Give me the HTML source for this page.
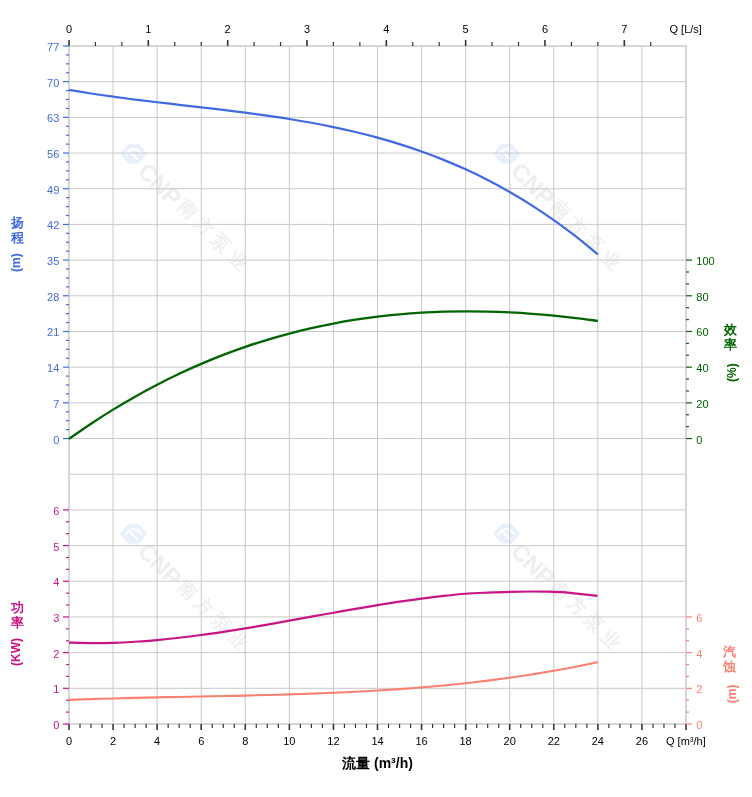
<!DOCTYPE html>
<html><head><meta charset="utf-8"><title>Pump curve</title>
<style>
html,body{margin:0;padding:0;background:#fff;}
body{width:752px;height:797px;overflow:hidden;}
svg{display:block;}
text{font-family:"Liberation Sans", Arial, sans-serif;}
</style></head>
<body>
<svg width="752" height="797" viewBox="0 0 752 797">
<rect width="752" height="797" fill="#fff"/>
<g id="wm">
<path transform="translate(133.6,153.6)" d="M-12,0 L-4.5,-8.6 L4.5,-8.6 L12,0 L4.5,8.6 L-4.5,8.6 Z" fill="#e8f0f9" stroke="#e8f0f9" stroke-width="2.6" stroke-linejoin="round"/>
<path transform="translate(133.6,153.6)" d="M-8,0.5 Q0,-9.5 8,0.5 M-3.2,-1.2 L3.5,5.5" fill="none" stroke="#ffffff" stroke-width="2.2" stroke-linecap="round"/>
<g transform="translate(133.6,153.6) rotate(45)">
<text x="15.5" y="11.5" font-family="Liberation Sans, sans-serif" font-weight="bold" font-size="23.5" fill="#eeeeee">CNP</text>
<text x="68.5" y="7.6" font-family="'Noto Sans CJK SC', sans-serif" font-weight="700" font-size="18.5" fill="#f0f0f0" letter-spacing="4.7">南方泵业</text>
</g>
<path transform="translate(506.6,153.6)" d="M-12,0 L-4.5,-8.6 L4.5,-8.6 L12,0 L4.5,8.6 L-4.5,8.6 Z" fill="#e8f0f9" stroke="#e8f0f9" stroke-width="2.6" stroke-linejoin="round"/>
<path transform="translate(506.6,153.6)" d="M-8,0.5 Q0,-9.5 8,0.5 M-3.2,-1.2 L3.5,5.5" fill="none" stroke="#ffffff" stroke-width="2.2" stroke-linecap="round"/>
<g transform="translate(506.6,153.6) rotate(45)">
<text x="15.5" y="11.5" font-family="Liberation Sans, sans-serif" font-weight="bold" font-size="23.5" fill="#eeeeee">CNP</text>
<text x="68.5" y="7.6" font-family="'Noto Sans CJK SC', sans-serif" font-weight="700" font-size="18.5" fill="#f0f0f0" letter-spacing="4.7">南方泵业</text>
</g>
<path transform="translate(133.6,533.7)" d="M-12,0 L-4.5,-8.6 L4.5,-8.6 L12,0 L4.5,8.6 L-4.5,8.6 Z" fill="#e8f0f9" stroke="#e8f0f9" stroke-width="2.6" stroke-linejoin="round"/>
<path transform="translate(133.6,533.7)" d="M-8,0.5 Q0,-9.5 8,0.5 M-3.2,-1.2 L3.5,5.5" fill="none" stroke="#ffffff" stroke-width="2.2" stroke-linecap="round"/>
<g transform="translate(133.6,533.7) rotate(45)">
<text x="15.5" y="11.5" font-family="Liberation Sans, sans-serif" font-weight="bold" font-size="23.5" fill="#eeeeee">CNP</text>
<text x="68.5" y="7.6" font-family="'Noto Sans CJK SC', sans-serif" font-weight="700" font-size="18.5" fill="#f0f0f0" letter-spacing="4.7">南方泵业</text>
</g>
<path transform="translate(506.6,533.7)" d="M-12,0 L-4.5,-8.6 L4.5,-8.6 L12,0 L4.5,8.6 L-4.5,8.6 Z" fill="#e8f0f9" stroke="#e8f0f9" stroke-width="2.6" stroke-linejoin="round"/>
<path transform="translate(506.6,533.7)" d="M-8,0.5 Q0,-9.5 8,0.5 M-3.2,-1.2 L3.5,5.5" fill="none" stroke="#ffffff" stroke-width="2.2" stroke-linecap="round"/>
<g transform="translate(506.6,533.7) rotate(45)">
<text x="15.5" y="11.5" font-family="Liberation Sans, sans-serif" font-weight="bold" font-size="23.5" fill="#eeeeee">CNP</text>
<text x="68.5" y="7.6" font-family="'Noto Sans CJK SC', sans-serif" font-weight="700" font-size="18.5" fill="#f0f0f0" letter-spacing="4.7">南方泵业</text>
</g>
</g>
<g id="grid" shape-rendering="auto">
<line x1="113.07" y1="46" x2="113.07" y2="724" stroke="#c8c8c8" stroke-width="1"/>
<line x1="157.14" y1="46" x2="157.14" y2="724" stroke="#c8c8c8" stroke-width="1"/>
<line x1="201.21" y1="46" x2="201.21" y2="724" stroke="#c8c8c8" stroke-width="1"/>
<line x1="245.29" y1="46" x2="245.29" y2="724" stroke="#c8c8c8" stroke-width="1"/>
<line x1="289.36" y1="46" x2="289.36" y2="724" stroke="#c8c8c8" stroke-width="1"/>
<line x1="333.43" y1="46" x2="333.43" y2="724" stroke="#c8c8c8" stroke-width="1"/>
<line x1="377.5" y1="46" x2="377.5" y2="724" stroke="#c8c8c8" stroke-width="1"/>
<line x1="421.57" y1="46" x2="421.57" y2="724" stroke="#c8c8c8" stroke-width="1"/>
<line x1="465.64" y1="46" x2="465.64" y2="724" stroke="#c8c8c8" stroke-width="1"/>
<line x1="509.71" y1="46" x2="509.71" y2="724" stroke="#c8c8c8" stroke-width="1"/>
<line x1="553.79" y1="46" x2="553.79" y2="724" stroke="#c8c8c8" stroke-width="1"/>
<line x1="597.86" y1="46" x2="597.86" y2="724" stroke="#c8c8c8" stroke-width="1"/>
<line x1="641.93" y1="46" x2="641.93" y2="724" stroke="#c8c8c8" stroke-width="1"/>
<line x1="69" y1="81.68" x2="686" y2="81.68" stroke="#c8c8c8" stroke-width="1"/>
<line x1="69" y1="117.37" x2="686" y2="117.37" stroke="#c8c8c8" stroke-width="1"/>
<line x1="69" y1="153.05" x2="686" y2="153.05" stroke="#c8c8c8" stroke-width="1"/>
<line x1="69" y1="188.74" x2="686" y2="188.74" stroke="#c8c8c8" stroke-width="1"/>
<line x1="69" y1="224.42" x2="686" y2="224.42" stroke="#c8c8c8" stroke-width="1"/>
<line x1="69" y1="260.11" x2="686" y2="260.11" stroke="#c8c8c8" stroke-width="1"/>
<line x1="69" y1="295.79" x2="686" y2="295.79" stroke="#c8c8c8" stroke-width="1"/>
<line x1="69" y1="331.47" x2="686" y2="331.47" stroke="#c8c8c8" stroke-width="1"/>
<line x1="69" y1="367.16" x2="686" y2="367.16" stroke="#c8c8c8" stroke-width="1"/>
<line x1="69" y1="402.84" x2="686" y2="402.84" stroke="#c8c8c8" stroke-width="1"/>
<line x1="69" y1="438.53" x2="686" y2="438.53" stroke="#c8c8c8" stroke-width="1"/>
<line x1="69" y1="474.21" x2="686" y2="474.21" stroke="#c8c8c8" stroke-width="1"/>
<line x1="69" y1="509.89" x2="686" y2="509.89" stroke="#c8c8c8" stroke-width="1"/>
<line x1="69" y1="545.58" x2="686" y2="545.58" stroke="#c8c8c8" stroke-width="1"/>
<line x1="69" y1="581.26" x2="686" y2="581.26" stroke="#c8c8c8" stroke-width="1"/>
<line x1="69" y1="616.95" x2="686" y2="616.95" stroke="#c8c8c8" stroke-width="1"/>
<line x1="69" y1="652.63" x2="686" y2="652.63" stroke="#c8c8c8" stroke-width="1"/>
<line x1="69" y1="688.32" x2="686" y2="688.32" stroke="#c8c8c8" stroke-width="1"/>
<rect x="69" y="46" width="617" height="678" fill="none" stroke="#d6d6d6" stroke-width="2"/>
<line x1="69" y1="724" x2="69" y2="730" stroke="#333333" stroke-width="1.6"/>
<line x1="80.02" y1="724" x2="80.02" y2="728" stroke="#333333" stroke-width="1.2"/>
<line x1="91.04" y1="724" x2="91.04" y2="728" stroke="#333333" stroke-width="1.2"/>
<line x1="102.05" y1="724" x2="102.05" y2="728" stroke="#333333" stroke-width="1.2"/>
<line x1="113.07" y1="724" x2="113.07" y2="730" stroke="#333333" stroke-width="1.6"/>
<line x1="124.09" y1="724" x2="124.09" y2="728" stroke="#333333" stroke-width="1.2"/>
<line x1="135.11" y1="724" x2="135.11" y2="728" stroke="#333333" stroke-width="1.2"/>
<line x1="146.12" y1="724" x2="146.12" y2="728" stroke="#333333" stroke-width="1.2"/>
<line x1="157.14" y1="724" x2="157.14" y2="730" stroke="#333333" stroke-width="1.6"/>
<line x1="168.16" y1="724" x2="168.16" y2="728" stroke="#333333" stroke-width="1.2"/>
<line x1="179.18" y1="724" x2="179.18" y2="728" stroke="#333333" stroke-width="1.2"/>
<line x1="190.2" y1="724" x2="190.2" y2="728" stroke="#333333" stroke-width="1.2"/>
<line x1="201.21" y1="724" x2="201.21" y2="730" stroke="#333333" stroke-width="1.6"/>
<line x1="212.23" y1="724" x2="212.23" y2="728" stroke="#333333" stroke-width="1.2"/>
<line x1="223.25" y1="724" x2="223.25" y2="728" stroke="#333333" stroke-width="1.2"/>
<line x1="234.27" y1="724" x2="234.27" y2="728" stroke="#333333" stroke-width="1.2"/>
<line x1="245.29" y1="724" x2="245.29" y2="730" stroke="#333333" stroke-width="1.6"/>
<line x1="256.3" y1="724" x2="256.3" y2="728" stroke="#333333" stroke-width="1.2"/>
<line x1="267.32" y1="724" x2="267.32" y2="728" stroke="#333333" stroke-width="1.2"/>
<line x1="278.34" y1="724" x2="278.34" y2="728" stroke="#333333" stroke-width="1.2"/>
<line x1="289.36" y1="724" x2="289.36" y2="730" stroke="#333333" stroke-width="1.6"/>
<line x1="300.38" y1="724" x2="300.38" y2="728" stroke="#333333" stroke-width="1.2"/>
<line x1="311.39" y1="724" x2="311.39" y2="728" stroke="#333333" stroke-width="1.2"/>
<line x1="322.41" y1="724" x2="322.41" y2="728" stroke="#333333" stroke-width="1.2"/>
<line x1="333.43" y1="724" x2="333.43" y2="730" stroke="#333333" stroke-width="1.6"/>
<line x1="344.45" y1="724" x2="344.45" y2="728" stroke="#333333" stroke-width="1.2"/>
<line x1="355.46" y1="724" x2="355.46" y2="728" stroke="#333333" stroke-width="1.2"/>
<line x1="366.48" y1="724" x2="366.48" y2="728" stroke="#333333" stroke-width="1.2"/>
<line x1="377.5" y1="724" x2="377.5" y2="730" stroke="#333333" stroke-width="1.6"/>
<line x1="388.52" y1="724" x2="388.52" y2="728" stroke="#333333" stroke-width="1.2"/>
<line x1="399.54" y1="724" x2="399.54" y2="728" stroke="#333333" stroke-width="1.2"/>
<line x1="410.55" y1="724" x2="410.55" y2="728" stroke="#333333" stroke-width="1.2"/>
<line x1="421.57" y1="724" x2="421.57" y2="730" stroke="#333333" stroke-width="1.6"/>
<line x1="432.59" y1="724" x2="432.59" y2="728" stroke="#333333" stroke-width="1.2"/>
<line x1="443.61" y1="724" x2="443.61" y2="728" stroke="#333333" stroke-width="1.2"/>
<line x1="454.62" y1="724" x2="454.62" y2="728" stroke="#333333" stroke-width="1.2"/>
<line x1="465.64" y1="724" x2="465.64" y2="730" stroke="#333333" stroke-width="1.6"/>
<line x1="476.66" y1="724" x2="476.66" y2="728" stroke="#333333" stroke-width="1.2"/>
<line x1="487.68" y1="724" x2="487.68" y2="728" stroke="#333333" stroke-width="1.2"/>
<line x1="498.7" y1="724" x2="498.7" y2="728" stroke="#333333" stroke-width="1.2"/>
<line x1="509.71" y1="724" x2="509.71" y2="730" stroke="#333333" stroke-width="1.6"/>
<line x1="520.73" y1="724" x2="520.73" y2="728" stroke="#333333" stroke-width="1.2"/>
<line x1="531.75" y1="724" x2="531.75" y2="728" stroke="#333333" stroke-width="1.2"/>
<line x1="542.77" y1="724" x2="542.77" y2="728" stroke="#333333" stroke-width="1.2"/>
<line x1="553.79" y1="724" x2="553.79" y2="730" stroke="#333333" stroke-width="1.6"/>
<line x1="564.8" y1="724" x2="564.8" y2="728" stroke="#333333" stroke-width="1.2"/>
<line x1="575.82" y1="724" x2="575.82" y2="728" stroke="#333333" stroke-width="1.2"/>
<line x1="586.84" y1="724" x2="586.84" y2="728" stroke="#333333" stroke-width="1.2"/>
<line x1="597.86" y1="724" x2="597.86" y2="730" stroke="#333333" stroke-width="1.6"/>
<line x1="608.88" y1="724" x2="608.88" y2="728" stroke="#333333" stroke-width="1.2"/>
<line x1="619.89" y1="724" x2="619.89" y2="728" stroke="#333333" stroke-width="1.2"/>
<line x1="630.91" y1="724" x2="630.91" y2="728" stroke="#333333" stroke-width="1.2"/>
<line x1="641.93" y1="724" x2="641.93" y2="730" stroke="#333333" stroke-width="1.6"/>
<line x1="652.95" y1="724" x2="652.95" y2="728" stroke="#333333" stroke-width="1.2"/>
<line x1="663.96" y1="724" x2="663.96" y2="728" stroke="#333333" stroke-width="1.2"/>
<line x1="674.98" y1="724" x2="674.98" y2="728" stroke="#333333" stroke-width="1.2"/>
<line x1="686" y1="724" x2="686" y2="730" stroke="#333333" stroke-width="1.6"/>
<line x1="69" y1="40" x2="69" y2="46" stroke="#333333" stroke-width="1.6"/>
<line x1="95.44" y1="42" x2="95.44" y2="46" stroke="#333333" stroke-width="1.2"/>
<line x1="121.89" y1="42" x2="121.89" y2="46" stroke="#333333" stroke-width="1.2"/>
<line x1="148.33" y1="40" x2="148.33" y2="46" stroke="#333333" stroke-width="1.6"/>
<line x1="174.77" y1="42" x2="174.77" y2="46" stroke="#333333" stroke-width="1.2"/>
<line x1="201.21" y1="42" x2="201.21" y2="46" stroke="#333333" stroke-width="1.2"/>
<line x1="227.66" y1="40" x2="227.66" y2="46" stroke="#333333" stroke-width="1.6"/>
<line x1="254.1" y1="42" x2="254.1" y2="46" stroke="#333333" stroke-width="1.2"/>
<line x1="280.54" y1="42" x2="280.54" y2="46" stroke="#333333" stroke-width="1.2"/>
<line x1="306.99" y1="40" x2="306.99" y2="46" stroke="#333333" stroke-width="1.6"/>
<line x1="333.43" y1="42" x2="333.43" y2="46" stroke="#333333" stroke-width="1.2"/>
<line x1="359.87" y1="42" x2="359.87" y2="46" stroke="#333333" stroke-width="1.2"/>
<line x1="386.31" y1="40" x2="386.31" y2="46" stroke="#333333" stroke-width="1.6"/>
<line x1="412.76" y1="42" x2="412.76" y2="46" stroke="#333333" stroke-width="1.2"/>
<line x1="439.2" y1="42" x2="439.2" y2="46" stroke="#333333" stroke-width="1.2"/>
<line x1="465.64" y1="40" x2="465.64" y2="46" stroke="#333333" stroke-width="1.6"/>
<line x1="492.09" y1="42" x2="492.09" y2="46" stroke="#333333" stroke-width="1.2"/>
<line x1="518.53" y1="42" x2="518.53" y2="46" stroke="#333333" stroke-width="1.2"/>
<line x1="544.97" y1="40" x2="544.97" y2="46" stroke="#333333" stroke-width="1.6"/>
<line x1="571.41" y1="42" x2="571.41" y2="46" stroke="#333333" stroke-width="1.2"/>
<line x1="597.86" y1="42" x2="597.86" y2="46" stroke="#333333" stroke-width="1.2"/>
<line x1="624.3" y1="40" x2="624.3" y2="46" stroke="#333333" stroke-width="1.6"/>
<line x1="650.74" y1="42" x2="650.74" y2="46" stroke="#333333" stroke-width="1.2"/>
<line x1="63" y1="46" x2="69" y2="46" stroke="#4169e1" stroke-width="1.2"/>
<line x1="66" y1="54.92" x2="69" y2="54.92" stroke="#4169e1" stroke-width="1.2"/>
<line x1="66" y1="63.84" x2="69" y2="63.84" stroke="#4169e1" stroke-width="1.2"/>
<line x1="66" y1="72.76" x2="69" y2="72.76" stroke="#4169e1" stroke-width="1.2"/>
<line x1="63" y1="81.68" x2="69" y2="81.68" stroke="#4169e1" stroke-width="1.2"/>
<line x1="66" y1="90.61" x2="69" y2="90.61" stroke="#4169e1" stroke-width="1.2"/>
<line x1="66" y1="99.53" x2="69" y2="99.53" stroke="#4169e1" stroke-width="1.2"/>
<line x1="66" y1="108.45" x2="69" y2="108.45" stroke="#4169e1" stroke-width="1.2"/>
<line x1="63" y1="117.37" x2="69" y2="117.37" stroke="#4169e1" stroke-width="1.2"/>
<line x1="66" y1="126.29" x2="69" y2="126.29" stroke="#4169e1" stroke-width="1.2"/>
<line x1="66" y1="135.21" x2="69" y2="135.21" stroke="#4169e1" stroke-width="1.2"/>
<line x1="66" y1="144.13" x2="69" y2="144.13" stroke="#4169e1" stroke-width="1.2"/>
<line x1="63" y1="153.05" x2="69" y2="153.05" stroke="#4169e1" stroke-width="1.2"/>
<line x1="66" y1="161.97" x2="69" y2="161.97" stroke="#4169e1" stroke-width="1.2"/>
<line x1="66" y1="170.89" x2="69" y2="170.89" stroke="#4169e1" stroke-width="1.2"/>
<line x1="66" y1="179.82" x2="69" y2="179.82" stroke="#4169e1" stroke-width="1.2"/>
<line x1="63" y1="188.74" x2="69" y2="188.74" stroke="#4169e1" stroke-width="1.2"/>
<line x1="66" y1="197.66" x2="69" y2="197.66" stroke="#4169e1" stroke-width="1.2"/>
<line x1="66" y1="206.58" x2="69" y2="206.58" stroke="#4169e1" stroke-width="1.2"/>
<line x1="66" y1="215.5" x2="69" y2="215.5" stroke="#4169e1" stroke-width="1.2"/>
<line x1="63" y1="224.42" x2="69" y2="224.42" stroke="#4169e1" stroke-width="1.2"/>
<line x1="66" y1="233.34" x2="69" y2="233.34" stroke="#4169e1" stroke-width="1.2"/>
<line x1="66" y1="242.26" x2="69" y2="242.26" stroke="#4169e1" stroke-width="1.2"/>
<line x1="66" y1="251.18" x2="69" y2="251.18" stroke="#4169e1" stroke-width="1.2"/>
<line x1="63" y1="260.11" x2="69" y2="260.11" stroke="#4169e1" stroke-width="1.2"/>
<line x1="66" y1="269.03" x2="69" y2="269.03" stroke="#4169e1" stroke-width="1.2"/>
<line x1="66" y1="277.95" x2="69" y2="277.95" stroke="#4169e1" stroke-width="1.2"/>
<line x1="66" y1="286.87" x2="69" y2="286.87" stroke="#4169e1" stroke-width="1.2"/>
<line x1="63" y1="295.79" x2="69" y2="295.79" stroke="#4169e1" stroke-width="1.2"/>
<line x1="66" y1="304.71" x2="69" y2="304.71" stroke="#4169e1" stroke-width="1.2"/>
<line x1="66" y1="313.63" x2="69" y2="313.63" stroke="#4169e1" stroke-width="1.2"/>
<line x1="66" y1="322.55" x2="69" y2="322.55" stroke="#4169e1" stroke-width="1.2"/>
<line x1="63" y1="331.47" x2="69" y2="331.47" stroke="#4169e1" stroke-width="1.2"/>
<line x1="66" y1="340.39" x2="69" y2="340.39" stroke="#4169e1" stroke-width="1.2"/>
<line x1="66" y1="349.32" x2="69" y2="349.32" stroke="#4169e1" stroke-width="1.2"/>
<line x1="66" y1="358.24" x2="69" y2="358.24" stroke="#4169e1" stroke-width="1.2"/>
<line x1="63" y1="367.16" x2="69" y2="367.16" stroke="#4169e1" stroke-width="1.2"/>
<line x1="66" y1="376.08" x2="69" y2="376.08" stroke="#4169e1" stroke-width="1.2"/>
<line x1="66" y1="385" x2="69" y2="385" stroke="#4169e1" stroke-width="1.2"/>
<line x1="66" y1="393.92" x2="69" y2="393.92" stroke="#4169e1" stroke-width="1.2"/>
<line x1="63" y1="402.84" x2="69" y2="402.84" stroke="#4169e1" stroke-width="1.2"/>
<line x1="66" y1="411.76" x2="69" y2="411.76" stroke="#4169e1" stroke-width="1.2"/>
<line x1="66" y1="420.68" x2="69" y2="420.68" stroke="#4169e1" stroke-width="1.2"/>
<line x1="66" y1="429.61" x2="69" y2="429.61" stroke="#4169e1" stroke-width="1.2"/>
<line x1="63" y1="438.53" x2="69" y2="438.53" stroke="#4169e1" stroke-width="1.2"/>
<line x1="63" y1="509.89" x2="69" y2="509.89" stroke="#c71585" stroke-width="1.2"/>
<line x1="66" y1="521.79" x2="69" y2="521.79" stroke="#c71585" stroke-width="1.2"/>
<line x1="66" y1="533.68" x2="69" y2="533.68" stroke="#c71585" stroke-width="1.2"/>
<line x1="63" y1="545.58" x2="69" y2="545.58" stroke="#c71585" stroke-width="1.2"/>
<line x1="66" y1="557.47" x2="69" y2="557.47" stroke="#c71585" stroke-width="1.2"/>
<line x1="66" y1="569.37" x2="69" y2="569.37" stroke="#c71585" stroke-width="1.2"/>
<line x1="63" y1="581.26" x2="69" y2="581.26" stroke="#c71585" stroke-width="1.2"/>
<line x1="66" y1="593.16" x2="69" y2="593.16" stroke="#c71585" stroke-width="1.2"/>
<line x1="66" y1="605.05" x2="69" y2="605.05" stroke="#c71585" stroke-width="1.2"/>
<line x1="63" y1="616.95" x2="69" y2="616.95" stroke="#c71585" stroke-width="1.2"/>
<line x1="66" y1="628.84" x2="69" y2="628.84" stroke="#c71585" stroke-width="1.2"/>
<line x1="66" y1="640.74" x2="69" y2="640.74" stroke="#c71585" stroke-width="1.2"/>
<line x1="63" y1="652.63" x2="69" y2="652.63" stroke="#c71585" stroke-width="1.2"/>
<line x1="66" y1="664.53" x2="69" y2="664.53" stroke="#c71585" stroke-width="1.2"/>
<line x1="66" y1="676.42" x2="69" y2="676.42" stroke="#c71585" stroke-width="1.2"/>
<line x1="63" y1="688.32" x2="69" y2="688.32" stroke="#c71585" stroke-width="1.2"/>
<line x1="66" y1="700.21" x2="69" y2="700.21" stroke="#c71585" stroke-width="1.2"/>
<line x1="66" y1="712.11" x2="69" y2="712.11" stroke="#c71585" stroke-width="1.2"/>
<line x1="63" y1="724" x2="69" y2="724" stroke="#c71585" stroke-width="1.2"/>
<line x1="686" y1="260.11" x2="692" y2="260.11" stroke="#006400" stroke-width="1.2"/>
<line x1="686" y1="272" x2="689" y2="272" stroke="#006400" stroke-width="1.2"/>
<line x1="686" y1="283.89" x2="689" y2="283.89" stroke="#006400" stroke-width="1.2"/>
<line x1="686" y1="295.79" x2="692" y2="295.79" stroke="#006400" stroke-width="1.2"/>
<line x1="686" y1="307.68" x2="689" y2="307.68" stroke="#006400" stroke-width="1.2"/>
<line x1="686" y1="319.58" x2="689" y2="319.58" stroke="#006400" stroke-width="1.2"/>
<line x1="686" y1="331.47" x2="692" y2="331.47" stroke="#006400" stroke-width="1.2"/>
<line x1="686" y1="343.37" x2="689" y2="343.37" stroke="#006400" stroke-width="1.2"/>
<line x1="686" y1="355.26" x2="689" y2="355.26" stroke="#006400" stroke-width="1.2"/>
<line x1="686" y1="367.16" x2="692" y2="367.16" stroke="#006400" stroke-width="1.2"/>
<line x1="686" y1="379.05" x2="689" y2="379.05" stroke="#006400" stroke-width="1.2"/>
<line x1="686" y1="390.95" x2="689" y2="390.95" stroke="#006400" stroke-width="1.2"/>
<line x1="686" y1="402.84" x2="692" y2="402.84" stroke="#006400" stroke-width="1.2"/>
<line x1="686" y1="414.74" x2="689" y2="414.74" stroke="#006400" stroke-width="1.2"/>
<line x1="686" y1="426.63" x2="689" y2="426.63" stroke="#006400" stroke-width="1.2"/>
<line x1="686" y1="438.53" x2="692" y2="438.53" stroke="#006400" stroke-width="1.2"/>
<line x1="686" y1="616.95" x2="692" y2="616.95" stroke="#fa8072" stroke-width="1.2"/>
<line x1="686" y1="628.84" x2="689" y2="628.84" stroke="#fa8072" stroke-width="1.2"/>
<line x1="686" y1="640.74" x2="689" y2="640.74" stroke="#fa8072" stroke-width="1.2"/>
<line x1="686" y1="652.63" x2="692" y2="652.63" stroke="#fa8072" stroke-width="1.2"/>
<line x1="686" y1="664.53" x2="689" y2="664.53" stroke="#fa8072" stroke-width="1.2"/>
<line x1="686" y1="676.42" x2="689" y2="676.42" stroke="#fa8072" stroke-width="1.2"/>
<line x1="686" y1="688.32" x2="692" y2="688.32" stroke="#fa8072" stroke-width="1.2"/>
<line x1="686" y1="700.21" x2="689" y2="700.21" stroke="#fa8072" stroke-width="1.2"/>
<line x1="686" y1="712.11" x2="689" y2="712.11" stroke="#fa8072" stroke-width="1.2"/>
<line x1="686" y1="724" x2="692" y2="724" stroke="#fa8072" stroke-width="1.2"/>
</g>
<g id="curves" fill="none" stroke-linecap="butt" stroke-linejoin="round">
<path d="M69,89.88 C72.67,90.48 83.69,92.35 91.04,93.48 C98.38,94.62 105.73,95.67 113.07,96.68 C120.42,97.7 127.76,98.64 135.11,99.57 C142.45,100.5 149.8,101.37 157.14,102.24 C164.49,103.11 171.83,103.95 179.18,104.79 C186.52,105.64 193.87,106.46 201.21,107.31 C208.56,108.16 215.9,109.01 223.25,109.89 C230.6,110.78 237.94,111.68 245.29,112.64 C252.63,113.59 259.98,114.57 267.32,115.63 C274.67,116.69 282.01,117.78 289.36,118.97 C296.7,120.15 304.05,121.4 311.39,122.75 C318.74,124.1 326.08,125.52 333.43,127.06 C340.77,128.6 348.12,130.23 355.46,132 C362.81,133.76 370.15,135.63 377.5,137.65 C384.85,139.68 392.19,141.82 399.54,144.13 C406.88,146.44 414.23,148.88 421.57,151.51 C428.92,154.14 436.26,156.91 443.61,159.89 C450.95,162.87 458.3,166.01 465.64,169.37 C472.99,172.73 480.33,176.27 487.68,180.04 C495.02,183.81 502.37,187.77 509.71,191.99 C517.06,196.2 524.4,200.63 531.75,205.31 C539.1,210 546.44,214.92 553.79,220.11 C561.13,225.3 568.48,230.74 575.82,236.47 C583.17,242.2 594.18,251.49 597.86,254.49" stroke="#4169e1" stroke-width="2.2"/>
<path d="M69,438.85 C72.67,436.33 83.69,428.56 91.04,423.69 C98.38,418.82 105.73,414.14 113.07,409.63 C120.42,405.12 127.76,400.8 135.11,396.65 C142.45,392.5 149.8,388.53 157.14,384.72 C164.49,380.92 171.83,377.28 179.18,373.81 C186.52,370.34 193.87,367.04 201.21,363.89 C208.56,360.75 215.9,357.77 223.25,354.93 C230.6,352.1 237.94,349.43 245.29,346.91 C252.63,344.38 259.98,342.01 267.32,339.78 C274.67,337.55 282.01,335.47 289.36,333.53 C296.7,331.58 304.05,329.78 311.39,328.11 C318.74,326.44 326.08,324.92 333.43,323.51 C340.77,322.11 348.12,320.84 355.46,319.7 C362.81,318.55 370.15,317.53 377.5,316.63 C384.85,315.73 392.19,314.96 399.54,314.29 C406.88,313.63 414.23,313.08 421.57,312.64 C428.92,312.21 436.26,311.88 443.61,311.66 C450.95,311.44 458.3,311.33 465.64,311.31 C472.99,311.3 480.33,311.39 487.68,311.57 C495.02,311.75 502.37,312.03 509.71,312.4 C517.06,312.77 524.4,313.23 531.75,313.78 C539.1,314.32 546.44,314.96 553.79,315.67 C561.13,316.39 568.48,317.18 575.82,318.05 C583.17,318.92 594.18,320.42 597.86,320.89" stroke="#006400" stroke-width="2.3"/>
<path d="M69,642.6 C72.67,642.69 83.69,643.09 91.04,643.12 C98.38,643.16 105.73,643.04 113.07,642.81 C120.42,642.59 127.76,642.22 135.11,641.77 C142.45,641.31 149.8,640.72 157.14,640.06 C164.49,639.4 171.83,638.62 179.18,637.78 C186.52,636.94 193.87,636 201.21,635.01 C208.56,634.02 215.9,632.94 223.25,631.83 C230.6,630.72 237.94,629.53 245.29,628.33 C252.63,627.12 259.98,625.86 267.32,624.58 C274.67,623.31 282.01,621.99 289.36,620.68 C296.7,619.36 304.05,618.02 311.39,616.7 C318.74,615.37 326.08,614.04 333.43,612.73 C340.77,611.42 348.12,610.11 355.46,608.85 C362.81,607.58 370.15,606.34 377.5,605.14 C384.85,603.95 392.19,602.79 399.54,601.7 C406.88,600.6 414.23,599.55 421.57,598.59 C428.92,597.63 436.26,596.72 443.61,595.91 C450.95,595.1 458.3,594.29 465.64,593.73 C472.99,593.18 480.33,592.92 487.68,592.6 C495.02,592.28 502.41,591.98 509.71,591.8 C517.02,591.62 525.12,591.52 531.5,591.5 C537.88,591.48 542.75,591.6 548,591.7 C553.25,591.8 560.5,592.03 563,592.1 L597.5,595.9" stroke="#c71585" stroke-width="2.2"/>
<path d="M69,699.87 C72.67,699.74 83.69,699.33 91.04,699.1 C98.38,698.86 105.73,698.64 113.07,698.44 C120.42,698.24 127.76,698.06 135.11,697.88 C142.45,697.7 149.8,697.54 157.14,697.39 C164.49,697.23 171.83,697.08 179.18,696.94 C186.52,696.79 193.87,696.65 201.21,696.5 C208.56,696.35 215.9,696.21 223.25,696.06 C230.6,695.9 237.94,695.75 245.29,695.58 C252.63,695.41 259.98,695.23 267.32,695.04 C274.67,694.84 282.01,694.64 289.36,694.41 C296.7,694.18 304.05,693.94 311.39,693.67 C318.74,693.4 326.08,693.11 333.43,692.79 C340.77,692.47 348.12,692.13 355.46,691.75 C362.81,691.37 370.15,690.97 377.5,690.52 C384.85,690.08 392.19,689.6 399.54,689.08 C406.88,688.56 414.23,688 421.57,687.39 C428.92,686.78 436.26,686.14 443.61,685.44 C450.95,684.74 458.3,683.99 465.64,683.19 C472.99,682.39 480.33,681.54 487.68,680.63 C495.02,679.71 502.37,678.75 509.71,677.72 C517.06,676.69 524.4,675.6 531.75,674.44 C539.1,673.28 546.44,672.06 553.79,670.77 C561.13,669.47 568.48,668.11 575.82,666.67 C583.17,665.23 594.18,662.89 597.86,662.13" stroke="#fa8072" stroke-width="2.1"/>
</g>
<g id="labels">
<text x="69" y="33" fill="#000" text-anchor="middle" font-size="11" >0</text>
<text x="148.33" y="33" fill="#000" text-anchor="middle" font-size="11" >1</text>
<text x="227.66" y="33" fill="#000" text-anchor="middle" font-size="11" >2</text>
<text x="306.99" y="33" fill="#000" text-anchor="middle" font-size="11" >3</text>
<text x="386.31" y="33" fill="#000" text-anchor="middle" font-size="11" >4</text>
<text x="465.64" y="33" fill="#000" text-anchor="middle" font-size="11" >5</text>
<text x="544.97" y="33" fill="#000" text-anchor="middle" font-size="11" >6</text>
<text x="624.3" y="33" fill="#000" text-anchor="middle" font-size="11" >7</text>
<text x="669.5" y="33" fill="#000" text-anchor="start" font-size="11" >Q [L/s]</text>
<text x="69" y="745" fill="#000" text-anchor="middle" font-size="11" >0</text>
<text x="113.07" y="745" fill="#000" text-anchor="middle" font-size="11" >2</text>
<text x="157.14" y="745" fill="#000" text-anchor="middle" font-size="11" >4</text>
<text x="201.21" y="745" fill="#000" text-anchor="middle" font-size="11" >6</text>
<text x="245.29" y="745" fill="#000" text-anchor="middle" font-size="11" >8</text>
<text x="289.36" y="745" fill="#000" text-anchor="middle" font-size="11" >10</text>
<text x="333.43" y="745" fill="#000" text-anchor="middle" font-size="11" >12</text>
<text x="377.5" y="745" fill="#000" text-anchor="middle" font-size="11" >14</text>
<text x="421.57" y="745" fill="#000" text-anchor="middle" font-size="11" >16</text>
<text x="465.64" y="745" fill="#000" text-anchor="middle" font-size="11" >18</text>
<text x="509.71" y="745" fill="#000" text-anchor="middle" font-size="11" >20</text>
<text x="553.79" y="745" fill="#000" text-anchor="middle" font-size="11" >22</text>
<text x="597.86" y="745" fill="#000" text-anchor="middle" font-size="11" >24</text>
<text x="641.93" y="745" fill="#000" text-anchor="middle" font-size="11" >26</text>
<text x="666" y="745" fill="#000" text-anchor="start" font-size="11" >Q [m³/h]</text>
<text x="59.3" y="51" fill="#4169e1" text-anchor="end" font-size="11" >77</text>
<text x="59.3" y="86.68" fill="#4169e1" text-anchor="end" font-size="11" >70</text>
<text x="59.3" y="122.37" fill="#4169e1" text-anchor="end" font-size="11" >63</text>
<text x="59.3" y="158.05" fill="#4169e1" text-anchor="end" font-size="11" >56</text>
<text x="59.3" y="193.74" fill="#4169e1" text-anchor="end" font-size="11" >49</text>
<text x="59.3" y="229.42" fill="#4169e1" text-anchor="end" font-size="11" >42</text>
<text x="59.3" y="265.11" fill="#4169e1" text-anchor="end" font-size="11" >35</text>
<text x="59.3" y="300.79" fill="#4169e1" text-anchor="end" font-size="11" >28</text>
<text x="59.3" y="336.47" fill="#4169e1" text-anchor="end" font-size="11" >21</text>
<text x="59.3" y="372.16" fill="#4169e1" text-anchor="end" font-size="11" >14</text>
<text x="59.3" y="407.84" fill="#4169e1" text-anchor="end" font-size="11" >7</text>
<text x="59.3" y="443.53" fill="#4169e1" text-anchor="end" font-size="11" >0</text>
<text x="59.3" y="514.89" fill="#c71585" text-anchor="end" font-size="11" >6</text>
<text x="59.3" y="550.58" fill="#c71585" text-anchor="end" font-size="11" >5</text>
<text x="59.3" y="586.26" fill="#c71585" text-anchor="end" font-size="11" >4</text>
<text x="59.3" y="621.95" fill="#c71585" text-anchor="end" font-size="11" >3</text>
<text x="59.3" y="657.63" fill="#c71585" text-anchor="end" font-size="11" >2</text>
<text x="59.3" y="693.32" fill="#c71585" text-anchor="end" font-size="11" >1</text>
<text x="59.3" y="729" fill="#c71585" text-anchor="end" font-size="11" >0</text>
<text x="696.3" y="265.11" fill="#006400" text-anchor="start" font-size="11" >100</text>
<text x="696.3" y="300.79" fill="#006400" text-anchor="start" font-size="11" >80</text>
<text x="696.3" y="336.47" fill="#006400" text-anchor="start" font-size="11" >60</text>
<text x="696.3" y="372.16" fill="#006400" text-anchor="start" font-size="11" >40</text>
<text x="696.3" y="407.84" fill="#006400" text-anchor="start" font-size="11" >20</text>
<text x="696.3" y="443.53" fill="#006400" text-anchor="start" font-size="11" >0</text>
<text x="696.3" y="621.95" fill="#fa8072" text-anchor="start" font-size="11" >6</text>
<text x="696.3" y="657.63" fill="#fa8072" text-anchor="start" font-size="11" >4</text>
<text x="696.3" y="693.32" fill="#fa8072" text-anchor="start" font-size="11" >2</text>
<text x="696.3" y="729" fill="#fa8072" text-anchor="start" font-size="11" >0</text>
<text x="17.2" y="227" fill="#4169e1" text-anchor="middle" font-size="12.5" font-weight="700" font-family="'Liberation Sans', 'Noto Sans CJK SC', sans-serif">扬</text>
<text x="17.2" y="242" fill="#4169e1" text-anchor="middle" font-size="12.5" font-weight="700" font-family="'Liberation Sans', 'Noto Sans CJK SC', sans-serif">程</text>
<text transform="translate(20.3,262.7) rotate(-90) scale(1,1.1)" fill="#4169e1" text-anchor="middle" font-size="12" font-weight="bold" letter-spacing="0" font-family="Liberation Sans, Arial, sans-serif">(m)</text>
<text x="17.2" y="612" fill="#c71585" text-anchor="middle" font-size="12.5" font-weight="700" font-family="'Liberation Sans', 'Noto Sans CJK SC', sans-serif">功</text>
<text x="17.2" y="627" fill="#c71585" text-anchor="middle" font-size="12.5" font-weight="700" font-family="'Liberation Sans', 'Noto Sans CJK SC', sans-serif">率</text>
<text transform="translate(19.9,652) rotate(-90) scale(1,1.08)" fill="#c71585" text-anchor="middle" font-size="12" font-weight="bold" letter-spacing="0" font-family="Liberation Sans, Arial, sans-serif">(KW)</text>
<text x="730" y="334" fill="#006400" text-anchor="middle" font-size="12.5" font-weight="700" font-family="'Liberation Sans', 'Noto Sans CJK SC', sans-serif">效</text>
<text x="730" y="349" fill="#006400" text-anchor="middle" font-size="12.5" font-weight="700" font-family="'Liberation Sans', 'Noto Sans CJK SC', sans-serif">率</text>
<text transform="translate(736,372.6) rotate(-90) scale(1,1.1)" fill="#006400" text-anchor="middle" font-size="12" font-weight="bold" letter-spacing="0" font-family="Liberation Sans, Arial, sans-serif">(%)</text>
<text x="729.5" y="655.5" fill="#fa8072" text-anchor="middle" font-size="12.5" font-weight="700" font-family="'Liberation Sans', 'Noto Sans CJK SC', sans-serif">汽</text>
<text x="729.5" y="670.5" fill="#fa8072" text-anchor="middle" font-size="12.5" font-weight="700" font-family="'Liberation Sans', 'Noto Sans CJK SC', sans-serif">蚀</text>
<text transform="translate(736,693.8) rotate(-90) scale(1,1.1)" fill="#fa8072" text-anchor="middle" font-size="12" font-weight="bold" letter-spacing="0" font-family="Liberation Sans, Arial, sans-serif">(m)</text>
<text x="377.5" y="768" fill="#000" text-anchor="middle" font-size="14" font-weight="bold" font-family="'Liberation Sans', 'Noto Sans CJK SC', sans-serif">流量 (m³/h)</text>
</g>
</svg>
</body></html>
